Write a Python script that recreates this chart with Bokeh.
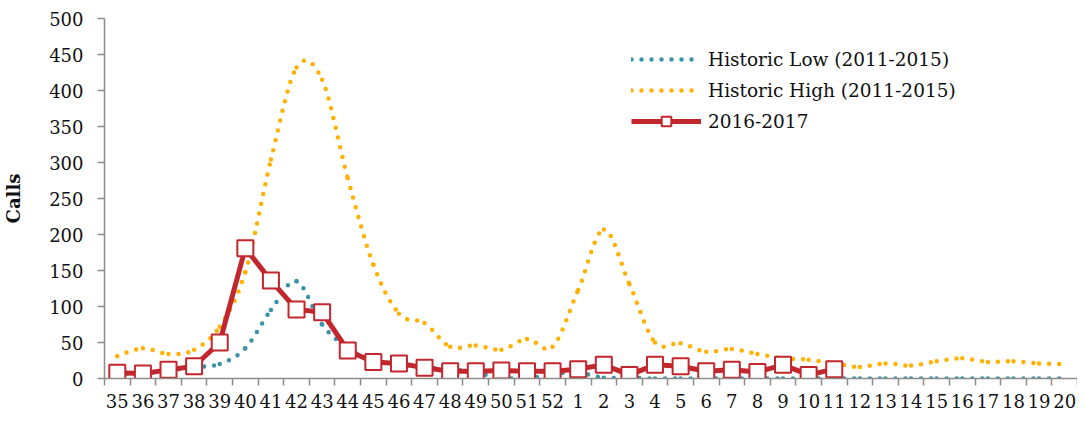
from bokeh.plotting import figure
from bokeh.models import FixedTicker, Legend, LegendItem, ColumnDataSource, Range1d
from bokeh.embed import file_html
from bokeh.resources import INLINE

weeks = ["35", "36", "37", "38", "39", "40", "41", "42", "43", "44", "45", "46",
         "47", "48", "49", "50", "51", "52", "1", "2", "3", "4", "5", "6", "7",
         "8", "9", "10", "11", "12", "13", "14", "15", "16", "17", "18", "19", "20"]

hist_low = [7, 7, 11, 16, 20, 42, 95, 135, 75, 42, 25, 20, 15, 13, 8, 1, 0, 6,
            8, 1, 1, 0, 0, 0, 0, 0, 0, 0, 0, 0, 0, 0, 0, 0, 0, 0, 0, 0]

hist_high = [31, 42, 34, 40, 72, 148, 304, 432, 415, 278, 158, 90, 77, 44, 46, 40,
             55, 44, 123, 207, 131, 50, 49, 37, 41, 34, 28, 26, 21, 16, 21, 18,
             24, 28, 23, 24, 21, 20]

season_2016 = [8, 7, 12, 17, 50, 181, 136, 96, 92, 39, 23, 21, 15, 10, 10, 11,
               10, 10, 13, 19, 5, 19, 17, 10, 12, 9, 19, 5, 13]

y_ticks = [0, 50, 100, 150, 200, 250, 300, 350, 400, 450, 500]

FONT = "DejaVu Serif"
BLUE = "#3A93A9"
ORANGE = "#FFB000"
RED = "#C1272D"
AXIS = "#8C8C8C"
TXT = "#111111"


def smooth_source(ys):
    xs = list(range(len(ys)))
    n = len(ys)
    d = dict(x0=[], y0=[], x1=[], y1=[], cx0=[], cy0=[], cx1=[], cy1=[])
    for i in range(n - 1):
        xm, ym = (xs[i - 1], ys[i - 1]) if i > 0 else (xs[i], ys[i])
        xp, yp = (xs[i + 2], ys[i + 2]) if i + 2 < n else (xs[i + 1], ys[i + 1])
        d["x0"].append(xs[i]); d["y0"].append(ys[i])
        d["x1"].append(xs[i + 1]); d["y1"].append(ys[i + 1])
        d["cx0"].append(xs[i] + (xs[i + 1] - xm) / 6.0)
        d["cy0"].append(ys[i] + (ys[i + 1] - ym) / 6.0)
        d["cx1"].append(xs[i + 1] - (xp - xs[i]) / 6.0)
        d["cy1"].append(ys[i + 1] - (yp - ys[i]) / 6.0)
    return ColumnDataSource(d)


W, H = 1077, 410
p = figure(width=W, height=H, output_backend="svg", toolbar_location=None,
           x_range=Range1d(-0.5, 37.5), y_range=Range1d(0, 500),
           min_border_left=103, min_border_right=0, min_border_top=18,
           min_border_bottom=26)
p.outline_line_color = None
p.xgrid.grid_line_color = None
p.ygrid.grid_line_color = None
p.background_fill_color = "white"
p.border_fill_color = "white"

low_r = p.bezier(x0="x0", y0="y0", x1="x1", y1="y1", cx0="cx0", cy0="cy0",
                 cx1="cx1", cy1="cy1", source=smooth_source(hist_low),
                 line_color=BLUE, line_width=4.5, line_dash="0 10", line_cap="round")
high_r = p.bezier(x0="x0", y0="y0", x1="x1", y1="y1", cx0="cx0", cy0="cy0",
                  cx1="cx1", cy1="cy1", source=smooth_source(hist_high),
                  line_color=ORANGE, line_width=4.5, line_dash="0 10", line_cap="round")

src_red = ColumnDataSource(dict(x=list(range(len(season_2016))), y=season_2016))
red_line = p.line("x", "y", source=src_red, line_color=RED, line_width=5,
                  line_join="round")
red_pts = p.scatter("x", "y", source=src_red, marker="square", size=16,
                    fill_color="white", line_color=RED, line_width=2)

# y axis
yax = p.yaxis[0]
yax.ticker = FixedTicker(ticks=y_ticks)
yax.major_tick_out = 7
yax.major_tick_in = 0
yax.minor_tick_out = 0
yax.minor_tick_in = 0
yax.axis_line_color = AXIS
yax.axis_line_width = 1.5
yax.major_tick_line_color = AXIS
yax.major_tick_line_width = 1.5
yax.major_label_standoff = 14
yax.major_label_text_font = FONT
yax.major_label_text_font_size = "18px"
yax.major_label_text_color = TXT
yax.axis_label = "Calls"
yax.axis_label_text_font = FONT
yax.axis_label_text_font_style = "bold"
yax.axis_label_text_font_size = "18px"
yax.axis_label_text_color = TXT
yax.axis_label_standoff = 22

# x axis
xax = p.xaxis[0]
xax.ticker = FixedTicker(ticks=list(range(len(weeks))),
                         minor_ticks=[i - 0.5 for i in range(len(weeks) + 1)])
xax.major_label_overrides = {i: w for i, w in enumerate(weeks)}
xax.major_tick_out = 0
xax.major_tick_in = 0
xax.minor_tick_out = 7
xax.minor_tick_in = 0
xax.minor_tick_line_color = AXIS
xax.minor_tick_line_width = 1.5
xax.axis_line_color = AXIS
xax.axis_line_width = 1.5
xax.major_label_standoff = 8
xax.major_label_text_font = FONT
xax.major_label_text_font_size = "18px"
xax.major_label_text_color = TXT

legend = Legend(items=[
    LegendItem(label="Historic Low (2011-2015)", renderers=[low_r]),
    LegendItem(label="Historic High (2011-2015)", renderers=[high_r]),
    LegendItem(label="2016-2017", renderers=[red_line, red_pts]),
], location=(527, 245))
legend.border_line_color = None
legend.background_fill_alpha = 0
legend.padding = 0
legend.margin = 0
legend.spacing = 7
legend.glyph_width = 70
legend.glyph_height = 24
legend.label_height = 24
legend.label_standoff = 7
legend.label_text_font = FONT
legend.label_text_font_size = "18.5px"
legend.label_text_color = TXT
p.add_layout(legend)

open("out.html", "w").write(file_html(p, INLINE))
